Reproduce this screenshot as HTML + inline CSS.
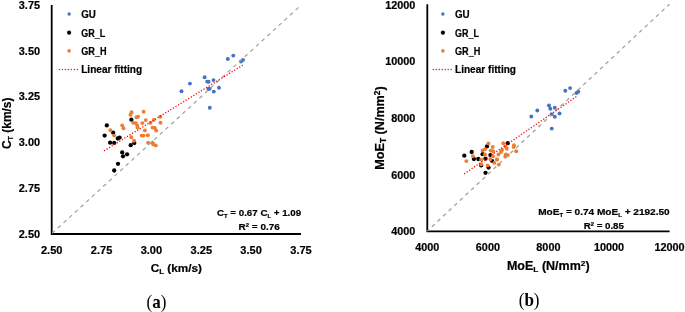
<!DOCTYPE html>
<html><head><meta charset="utf-8"><style>
html,body{margin:0;padding:0;background:#fff;width:685px;height:312px;overflow:hidden}
svg{display:block;will-change:transform}
text{stroke:#000;stroke-width:0.2px}
</style></head><body>
<svg width="685" height="312" viewBox="0 0 685 312">
<rect width="685" height="312" fill="#fff"/><path d="M51.7 5.1 V234.0 H301" fill="none" stroke="#000" stroke-width="1.8"/><circle cx="209.8" cy="107.8" r="1.95" fill="#4472c4"/><circle cx="181.5" cy="91.3" r="1.95" fill="#4472c4"/><circle cx="189.9" cy="83.6" r="1.95" fill="#4472c4"/><circle cx="204.6" cy="77.2" r="1.95" fill="#4472c4"/><circle cx="207.2" cy="81.6" r="1.95" fill="#4472c4"/><circle cx="208.6" cy="81.8" r="1.95" fill="#4472c4"/><circle cx="213.5" cy="80.1" r="1.95" fill="#4472c4"/><circle cx="208.4" cy="88.9" r="1.95" fill="#4472c4"/><circle cx="209.6" cy="88.7" r="1.95" fill="#4472c4"/><circle cx="213.8" cy="91.6" r="1.95" fill="#4472c4"/><circle cx="219.0" cy="87.8" r="1.95" fill="#4472c4"/><circle cx="227.8" cy="59.0" r="1.95" fill="#4472c4"/><circle cx="233.3" cy="55.6" r="1.95" fill="#4472c4"/><circle cx="241.0" cy="61.5" r="1.95" fill="#4472c4"/><circle cx="243.0" cy="59.9" r="1.95" fill="#4472c4"/><circle cx="106.8" cy="125.4" r="2.15" fill="#000000"/><circle cx="104.6" cy="135.6" r="2.15" fill="#000000"/><circle cx="113.2" cy="132.7" r="2.15" fill="#000000"/><circle cx="110.1" cy="142.7" r="2.15" fill="#000000"/><circle cx="114.2" cy="142.9" r="2.15" fill="#000000"/><circle cx="117.8" cy="138.5" r="2.15" fill="#000000"/><circle cx="119.6" cy="137.6" r="2.15" fill="#000000"/><circle cx="131.4" cy="119.7" r="2.15" fill="#000000"/><circle cx="130.7" cy="145.2" r="2.15" fill="#000000"/><circle cx="134.3" cy="143.0" r="2.15" fill="#000000"/><circle cx="122.2" cy="152.4" r="2.15" fill="#000000"/><circle cx="123.0" cy="156.3" r="2.15" fill="#000000"/><circle cx="127.1" cy="154.3" r="2.15" fill="#000000"/><circle cx="118.0" cy="163.8" r="2.15" fill="#000000"/><circle cx="114.2" cy="170.5" r="2.15" fill="#000000"/><circle cx="110.4" cy="130.3" r="1.95" fill="#ed7d31"/><circle cx="114.2" cy="135.6" r="1.95" fill="#ed7d31"/><circle cx="122.2" cy="125.4" r="1.95" fill="#ed7d31"/><circle cx="123.5" cy="128.2" r="1.95" fill="#ed7d31"/><circle cx="131.6" cy="112.2" r="1.95" fill="#ed7d31"/><circle cx="130.5" cy="114.8" r="1.95" fill="#ed7d31"/><circle cx="133.2" cy="122.8" r="1.95" fill="#ed7d31"/><circle cx="131.3" cy="137.3" r="1.95" fill="#ed7d31"/><circle cx="134.1" cy="140.8" r="1.95" fill="#ed7d31"/><circle cx="143.6" cy="111.8" r="1.95" fill="#ed7d31"/><circle cx="136.5" cy="117.3" r="1.95" fill="#ed7d31"/><circle cx="138.1" cy="116.7" r="1.95" fill="#ed7d31"/><circle cx="135.9" cy="123.1" r="1.95" fill="#ed7d31"/><circle cx="137.2" cy="125.6" r="1.95" fill="#ed7d31"/><circle cx="137.6" cy="127.6" r="1.95" fill="#ed7d31"/><circle cx="142.3" cy="123.1" r="1.95" fill="#ed7d31"/><circle cx="145.8" cy="120.1" r="1.95" fill="#ed7d31"/><circle cx="144.9" cy="130.4" r="1.95" fill="#ed7d31"/><circle cx="141.7" cy="135.6" r="1.95" fill="#ed7d31"/><circle cx="143.6" cy="135.6" r="1.95" fill="#ed7d31"/><circle cx="147.8" cy="135.3" r="1.95" fill="#ed7d31"/><circle cx="150.5" cy="122.8" r="1.95" fill="#ed7d31"/><circle cx="153.8" cy="119.9" r="1.95" fill="#ed7d31"/><circle cx="160.3" cy="116.7" r="1.95" fill="#ed7d31"/><circle cx="160.5" cy="122.8" r="1.95" fill="#ed7d31"/><circle cx="152.6" cy="127.6" r="1.95" fill="#ed7d31"/><circle cx="154.8" cy="128.0" r="1.95" fill="#ed7d31"/><circle cx="156.2" cy="130.5" r="1.95" fill="#ed7d31"/><circle cx="148.1" cy="142.8" r="1.95" fill="#ed7d31"/><circle cx="152.6" cy="142.6" r="1.95" fill="#ed7d31"/><circle cx="153.2" cy="144.4" r="1.95" fill="#ed7d31"/><circle cx="155.8" cy="145.4" r="1.95" fill="#ed7d31"/><line x1="51.7" y1="233.7" x2="301.0" y2="5.2" stroke="#a0a0a0" stroke-width="1.2" stroke-dasharray="3.8 3.88" stroke-dashoffset="-0.7"/><line x1="104.0" y1="150.9" x2="242.7" y2="65.2" stroke="#ff0000" stroke-width="1.3" stroke-dasharray="1.2 1.8"/><path d="M427.3 4.2 V231.45 H669.6" fill="none" stroke="#000" stroke-width="1.8"/><circle cx="531.3" cy="116.5" r="1.95" fill="#4472c4"/><circle cx="537.3" cy="110.5" r="1.95" fill="#4472c4"/><circle cx="549.0" cy="105.5" r="1.95" fill="#4472c4"/><circle cx="550.3" cy="108.8" r="1.95" fill="#4472c4"/><circle cx="554.8" cy="107.7" r="1.95" fill="#4472c4"/><circle cx="551.7" cy="114.2" r="1.95" fill="#4472c4"/><circle cx="554.8" cy="116.7" r="1.95" fill="#4472c4"/><circle cx="559.5" cy="113.5" r="1.95" fill="#4472c4"/><circle cx="551.7" cy="128.6" r="1.95" fill="#4472c4"/><circle cx="565.3" cy="90.8" r="1.95" fill="#4472c4"/><circle cx="570.1" cy="88.1" r="1.95" fill="#4472c4"/><circle cx="576.5" cy="93.0" r="1.95" fill="#4472c4"/><circle cx="578.3" cy="91.7" r="1.95" fill="#4472c4"/><circle cx="464.3" cy="155.7" r="2.15" fill="#000000"/><circle cx="471.7" cy="152.0" r="2.15" fill="#000000"/><circle cx="473.9" cy="159.0" r="2.15" fill="#000000"/><circle cx="478.3" cy="159.0" r="2.15" fill="#000000"/><circle cx="482.6" cy="154.2" r="2.15" fill="#000000"/><circle cx="485.5" cy="158.7" r="2.15" fill="#000000"/><circle cx="481.2" cy="165.4" r="2.15" fill="#000000"/><circle cx="487.0" cy="146.4" r="2.15" fill="#000000"/><circle cx="490.4" cy="155.1" r="2.15" fill="#000000"/><circle cx="492.0" cy="160.8" r="2.15" fill="#000000"/><circle cx="488.5" cy="167.6" r="2.15" fill="#000000"/><circle cx="485.5" cy="172.8" r="2.15" fill="#000000"/><circle cx="507.8" cy="143.2" r="2.15" fill="#000000"/><circle cx="466.3" cy="161.1" r="1.95" fill="#ed7d31"/><circle cx="473.0" cy="156.3" r="1.95" fill="#ed7d31"/><circle cx="481.2" cy="159.6" r="1.95" fill="#ed7d31"/><circle cx="482.6" cy="150.5" r="1.95" fill="#ed7d31"/><circle cx="485.0" cy="149.3" r="1.95" fill="#ed7d31"/><circle cx="488.4" cy="143.4" r="1.95" fill="#ed7d31"/><circle cx="492.7" cy="147.0" r="1.95" fill="#ed7d31"/><circle cx="490.6" cy="150.6" r="1.95" fill="#ed7d31"/><circle cx="493.2" cy="151.3" r="1.95" fill="#ed7d31"/><circle cx="485.0" cy="154.5" r="1.95" fill="#ed7d31"/><circle cx="493.0" cy="156.3" r="1.95" fill="#ed7d31"/><circle cx="490.4" cy="159.3" r="1.95" fill="#ed7d31"/><circle cx="497.0" cy="159.5" r="1.95" fill="#ed7d31"/><circle cx="494.3" cy="162.9" r="1.95" fill="#ed7d31"/><circle cx="498.5" cy="154.5" r="1.95" fill="#ed7d31"/><circle cx="498.8" cy="164.6" r="1.95" fill="#ed7d31"/><circle cx="481.2" cy="164.2" r="1.95" fill="#ed7d31"/><circle cx="487.6" cy="165.4" r="1.95" fill="#ed7d31"/><circle cx="501.0" cy="151.9" r="1.95" fill="#ed7d31"/><circle cx="502.1" cy="150.0" r="1.95" fill="#ed7d31"/><circle cx="503.3" cy="143.2" r="1.95" fill="#ed7d31"/><circle cx="505.5" cy="146.5" r="1.95" fill="#ed7d31"/><circle cx="506.8" cy="148.7" r="1.95" fill="#ed7d31"/><circle cx="505.9" cy="154.5" r="1.95" fill="#ed7d31"/><circle cx="507.8" cy="155.1" r="1.95" fill="#ed7d31"/><circle cx="505.3" cy="156.4" r="1.95" fill="#ed7d31"/><circle cx="514.0" cy="145.3" r="1.95" fill="#ed7d31"/><circle cx="513.6" cy="147.0" r="1.95" fill="#ed7d31"/><circle cx="516.2" cy="151.3" r="1.95" fill="#ed7d31"/><circle cx="496.9" cy="159.6" r="1.95" fill="#ed7d31"/><line x1="427.3" y1="231.1" x2="669.5" y2="4.2" stroke="#a0a0a0" stroke-width="1.2" stroke-dasharray="3.8 3.88" stroke-dashoffset="1.4"/><line x1="464.2" y1="173.9" x2="577.8" y2="95.6" stroke="#ff0000" stroke-width="1.3" stroke-dasharray="1.2 1.8"/><g font-family='"Liberation Sans", sans-serif' font-weight="bold" fill="#000"><text x="40" y="237.5" font-size="10.5" text-anchor="end" textLength="21.2" lengthAdjust="spacingAndGlyphs">2.50</text><text x="40" y="191.8" font-size="10.5" text-anchor="end" textLength="21.2" lengthAdjust="spacingAndGlyphs">2.75</text><text x="40" y="146.1" font-size="10.5" text-anchor="end" textLength="21.2" lengthAdjust="spacingAndGlyphs">3.00</text><text x="40" y="100.4" font-size="10.5" text-anchor="end" textLength="21.2" lengthAdjust="spacingAndGlyphs">3.25</text><text x="40" y="54.7" font-size="10.5" text-anchor="end" textLength="21.2" lengthAdjust="spacingAndGlyphs">3.50</text><text x="40" y="9.0" font-size="10.5" text-anchor="end" textLength="21.2" lengthAdjust="spacingAndGlyphs">3.75</text><text x="51.7" y="254.0" font-size="10.5" text-anchor="middle" textLength="21.5" lengthAdjust="spacingAndGlyphs">2.50</text><text x="101.6" y="254.0" font-size="10.5" text-anchor="middle" textLength="21.5" lengthAdjust="spacingAndGlyphs">2.75</text><text x="151.4" y="254.0" font-size="10.5" text-anchor="middle" textLength="21.5" lengthAdjust="spacingAndGlyphs">3.00</text><text x="201.3" y="254.0" font-size="10.5" text-anchor="middle" textLength="21.5" lengthAdjust="spacingAndGlyphs">3.25</text><text x="251.1" y="254.0" font-size="10.5" text-anchor="middle" textLength="21.5" lengthAdjust="spacingAndGlyphs">3.50</text><text x="301.0" y="254.0" font-size="10.5" text-anchor="middle" textLength="21.5" lengthAdjust="spacingAndGlyphs">3.75</text><text x="415.4" y="235.4" font-size="10.5" text-anchor="end" textLength="24.1" lengthAdjust="spacingAndGlyphs">4000</text><text x="427.3" y="250.7" font-size="10.5" text-anchor="middle" textLength="24.1" lengthAdjust="spacingAndGlyphs">4000</text><text x="415.4" y="178.7" font-size="10.5" text-anchor="end" textLength="24.1" lengthAdjust="spacingAndGlyphs">6000</text><text x="487.9" y="250.7" font-size="10.5" text-anchor="middle" textLength="24.1" lengthAdjust="spacingAndGlyphs">6000</text><text x="415.4" y="122.0" font-size="10.5" text-anchor="end" textLength="24.1" lengthAdjust="spacingAndGlyphs">8000</text><text x="548.4" y="250.7" font-size="10.5" text-anchor="middle" textLength="24.1" lengthAdjust="spacingAndGlyphs">8000</text><text x="415.4" y="65.2" font-size="10.5" text-anchor="end" textLength="30.2" lengthAdjust="spacingAndGlyphs">10000</text><text x="609.0" y="250.7" font-size="10.5" text-anchor="middle" textLength="30.2" lengthAdjust="spacingAndGlyphs">10000</text><text x="415.4" y="8.5" font-size="10.5" text-anchor="end" textLength="30.2" lengthAdjust="spacingAndGlyphs">12000</text><text x="669.5" y="250.7" font-size="10.5" text-anchor="middle" textLength="30.2" lengthAdjust="spacingAndGlyphs">12000</text></g><g font-family='"Liberation Sans", sans-serif' font-weight="bold" fill="#000"><circle cx="69.1" cy="14" r="1.7" fill="#4472c4"/><circle cx="69.1" cy="32.7" r="2.1" fill="#000000"/><circle cx="69.1" cy="50.9" r="1.8" fill="#ed7d31"/><text x="81.2" y="18.0" font-size="10" text-anchor="start" textLength="14.7" lengthAdjust="spacingAndGlyphs">GU</text><text x="81.2" y="36.6" font-size="10" text-anchor="start" textLength="24" lengthAdjust="spacingAndGlyphs">GR_L</text><text x="81.2" y="54.6" font-size="10" text-anchor="start" textLength="25.4" lengthAdjust="spacingAndGlyphs">GR_H</text><text x="81.2" y="72.6" font-size="10" text-anchor="start" textLength="61" lengthAdjust="spacingAndGlyphs">Linear fitting</text><circle cx="442.9" cy="14" r="1.7" fill="#4472c4"/><circle cx="442.9" cy="32.7" r="2.1" fill="#000000"/><circle cx="442.9" cy="50.9" r="1.8" fill="#ed7d31"/><text x="455.0" y="18.0" font-size="10" text-anchor="start" textLength="14.7" lengthAdjust="spacingAndGlyphs">GU</text><text x="455.0" y="36.6" font-size="10" text-anchor="start" textLength="24" lengthAdjust="spacingAndGlyphs">GR_L</text><text x="455.0" y="54.6" font-size="10" text-anchor="start" textLength="25.4" lengthAdjust="spacingAndGlyphs">GR_H</text><text x="455.0" y="72.6" font-size="10" text-anchor="start" textLength="61" lengthAdjust="spacingAndGlyphs">Linear fitting</text><circle cx="59.40" cy="69.45" r="0.75" fill="#ff1010"/><circle cx="62.38" cy="69.45" r="0.75" fill="#ff1010"/><circle cx="65.36" cy="69.45" r="0.75" fill="#ff1010"/><circle cx="68.34" cy="69.45" r="0.75" fill="#ff1010"/><circle cx="71.32" cy="69.45" r="0.75" fill="#ff1010"/><circle cx="74.30" cy="69.45" r="0.75" fill="#ff1010"/><circle cx="77.28" cy="69.45" r="0.75" fill="#ff1010"/><circle cx="433.30" cy="69.45" r="0.75" fill="#ff1010"/><circle cx="436.28" cy="69.45" r="0.75" fill="#ff1010"/><circle cx="439.26" cy="69.45" r="0.75" fill="#ff1010"/><circle cx="442.24" cy="69.45" r="0.75" fill="#ff1010"/><circle cx="445.22" cy="69.45" r="0.75" fill="#ff1010"/><circle cx="448.20" cy="69.45" r="0.75" fill="#ff1010"/><circle cx="451.18" cy="69.45" r="0.75" fill="#ff1010"/></g><g font-family='"Liberation Sans", sans-serif' font-weight="bold" fill="#000"><text x="259.1" y="216" font-size="9.3" text-anchor="middle" textLength="84.2" lengthAdjust="spacingAndGlyphs">C<tspan font-size="5.6" dy="2">T</tspan><tspan dy="-2"> = 0.67 C</tspan><tspan font-size="5.6" dy="2">L</tspan><tspan dy="-2"> + 1.09</tspan></text><text x="259.2" y="229.9" font-size="9.3" text-anchor="middle" textLength="41.3" lengthAdjust="spacingAndGlyphs">R<tspan font-size="5.6" dy="-3.2">2</tspan><tspan dy="3.2"> = 0.76</tspan></text><text x="603.95" y="215.3" font-size="9.3" text-anchor="middle" textLength="131.5" lengthAdjust="spacingAndGlyphs">MoE<tspan font-size="5.6" dy="2">T</tspan><tspan dy="-2"> = 0.74 MoE</tspan><tspan font-size="5.6" dy="2">L</tspan><tspan dy="-2"> + 2192.50</tspan></text><text x="603.8" y="228.6" font-size="9.3" text-anchor="middle" textLength="40.3" lengthAdjust="spacingAndGlyphs">R<tspan font-size="5.6" dy="-3">2</tspan><tspan dy="3"> = 0.85</tspan></text></g><g font-family='"Liberation Sans", sans-serif' font-weight="bold" fill="#000"><text x="176.35" y="271.5" font-size="11.5" text-anchor="middle" textLength="51.3" lengthAdjust="spacingAndGlyphs"><tspan>C</tspan><tspan font-size="7.8" dy="2">L</tspan><tspan dy="-2"> (km/s)</tspan></text><text x="548.25" y="270" font-size="12" text-anchor="middle" textLength="82.7" lengthAdjust="spacingAndGlyphs">MoE<tspan font-size="8" dy="2">L</tspan><tspan dy="-2"> (N/mm</tspan><tspan font-size="8" dy="-4.5">2</tspan><tspan dy="4.5">)</tspan></text><g transform="translate(10.7 123.3) rotate(-90)"><text x="0" y="0" font-size="12.5" text-anchor="middle" textLength="51.5" lengthAdjust="spacingAndGlyphs">C<tspan font-size="7.6" dy="2.2">T</tspan><tspan dy="-2.2"> (km/s)</tspan></text></g><g transform="translate(384.3 128) rotate(-90)"><text x="0" y="0" font-size="12.3" text-anchor="middle" textLength="83.5" lengthAdjust="spacingAndGlyphs">MoE<tspan font-size="8.2" dy="2">T</tspan><tspan dy="-2"> (N/mm</tspan><tspan font-size="8.2" dy="-4.5">2</tspan><tspan dy="4.5">)</tspan></text></g></g><g font-family='"Liberation Serif", serif' fill="#000"><text style="stroke:none" transform="translate(156.4 308.2) scale(1 1.1)" x="0" y="0" font-size="17" text-anchor="middle">(<tspan font-weight="bold">a</tspan>)</text><text style="stroke:none" transform="translate(529.1 306.2) scale(1 1.06)" x="0" y="0" font-size="17" text-anchor="middle">(<tspan font-weight="bold">b</tspan>)</text></g>
</svg>
</body></html>
